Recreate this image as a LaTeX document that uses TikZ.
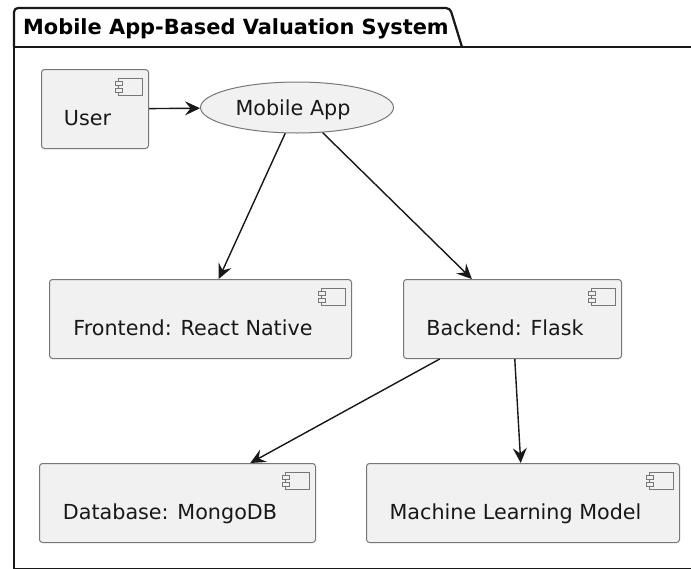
\documentclass[tikz,border=0pt]{standalone}
\usepackage{fontspec}
\setmainfont{DejaVu Sans}
\usetikzlibrary{shapes.geometric,arrows.meta}
\definecolor{boxfill}{HTML}{F1F1F1}
\definecolor{boxline}{HTML}{777777}
\definecolor{ink}{HTML}{181818}
\tikzset{
 comp/.style={draw=boxline, fill=boxfill, line width=1pt, rounded corners=3pt, minimum height=79pt, inner sep=0pt, anchor=north west},
 lbl/.style={font=\fontsize{20.7}{24}\selectfont, anchor=base, inner sep=0pt, text=ink},
 arr/.style={draw=ink, line width=1.4pt, -{Stealth[length=15pt,width=14pt,inset=5.5pt]}},
 icon/.style={draw=boxline, fill=boxfill, line width=1pt},
}
\newcommand\compicon[1]{%
 \draw[icon] ([xshift=-31pt,yshift=-9pt]#1.north east) rectangle ([xshift=-7pt,yshift=-26pt]#1.north east);
 \draw[icon] ([xshift=-34pt,yshift=-12pt]#1.north east) rectangle ([xshift=-27pt,yshift=-16pt]#1.north east);
 \draw[icon] ([xshift=-34pt,yshift=-19pt]#1.north east) rectangle ([xshift=-27pt,yshift=-23pt]#1.north east);
}
\newcommand\complabel[2]{%
 \node[lbl] at ([xshift=-7.5pt,yshift=-56pt]#1.north) {#2};
}
\begin{document}
\begin{tikzpicture}[x=1pt,y=-1pt]
\useasboundingbox (0,0) rectangle (691,568);
\clip (0,0) rectangle (691,568);
\fill[white] (0,0) rectangle (691,568);
% package frame
\draw[ink, line width=2.2pt] (14,47) rectangle (720,569);
\draw[ink, line width=2.2pt, rounded corners=4pt] (14,47) |- (450,8) -- (462,47);
\node[font=\bfseries\fontsize{20.9}{24}\selectfont, anchor=base west, inner sep=0pt, text=black] (title) at (23,34) {Mobile App-Based Valuation System};
% components
\node[comp, minimum width=107pt] (user) at (41,69) {};
\node[ellipse, draw=boxline, fill=boxfill, line width=1pt, minimum width=193pt, minimum height=51pt, inner sep=0pt] (app) at (297,107.5) {};
\node[comp, minimum width=302pt] (fe) at (49,279) {};
\node[comp, minimum width=218pt] (be) at (403,279) {};
\node[comp, minimum width=276pt] (db) at (39,463) {};
\node[comp, minimum width=313pt] (ml) at (366,463) {};
\compicon{user}
\compicon{fe}
\compicon{be}
\compicon{db}
\compicon{ml}
\complabel{user}{User}
\complabel{fe}{Frontend: React Native}
\complabel{be}{Backend: Flask}
\complabel{db}{Database: MongoDB}
\complabel{ml}{Machine Learning Model}
\node[lbl] (applbl) at (293,115) {Mobile App};
% connectors
\draw[arr] (user) -- (app);
\draw[arr] (app) -- (fe);
\draw[arr] (app) -- (be);
\draw[arr] (be) -- (db);
\draw[arr] (be) -- (ml);
\end{tikzpicture}
\end{document}
